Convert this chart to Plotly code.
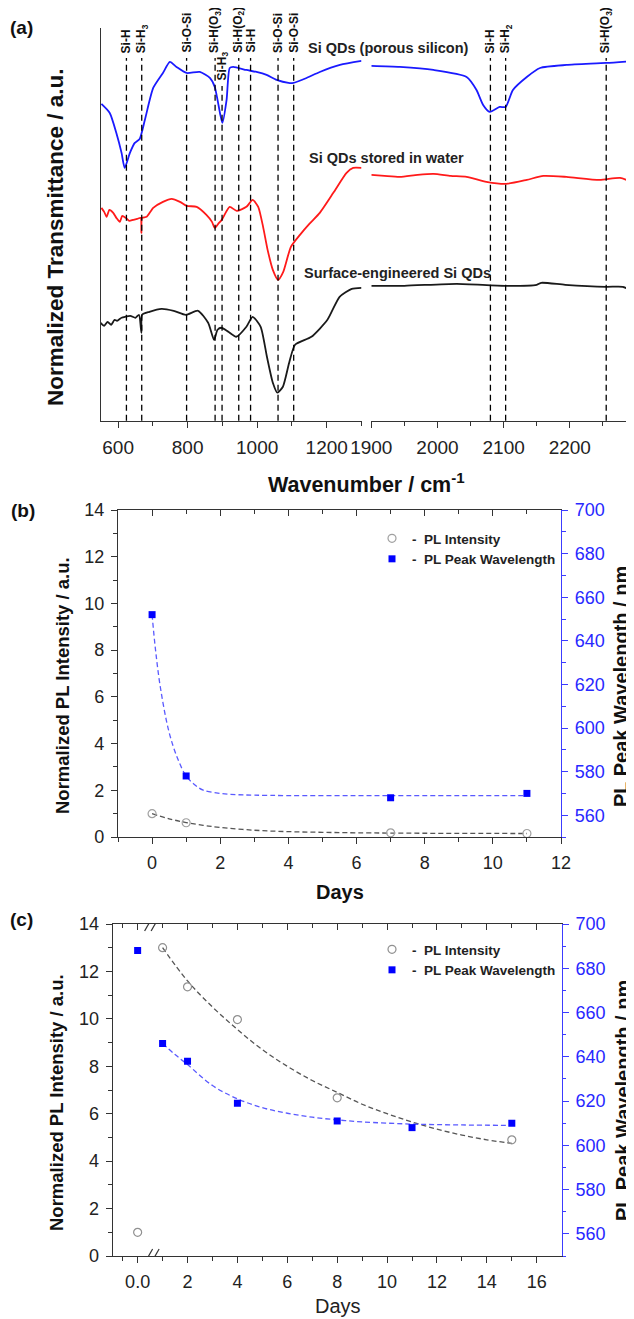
import plotly.graph_objects as go

W = 634
H = 1319
PAGE_OFF = 8  # the page body margin shifts the figure by 8 px

# (a) FTIR spectra (a.u., curves stacked)
blue_wn_l = [552, 576, 595, 610, 619, 634, 648, 662, 677, 701, 729, 749, 768, 797, 835, 864, 878, 893, 900, 912,
             921, 931, 969, 998, 1027, 1056, 1090, 1104, 1142, 1180, 1238, 1300]
blue_t_l = [317, 308, 288, 268, 253, 268, 278, 282, 301, 333, 348, 359, 354, 348, 349, 343, 334, 308, 298, 321,
            353, 354, 351, 349, 346, 341, 338, 338, 343, 349, 356, 360]
blue_wn_r = [1900, 1943, 1994, 2044, 2059, 2069, 2079, 2094, 2103, 2114, 2135, 2155, 2195, 2255, 2296]
blue_t_r = [355, 354, 351, 344, 331, 316, 309, 314, 314, 331, 344, 353, 356, 358, 360]

red_wn_l = [552, 560, 567, 575, 586, 595, 605, 612, 622, 632, 643, 655, 665, 667, 669, 682, 701, 729, 754, 778,
            797, 826, 854, 870, 878, 888, 898, 921, 941, 969, 987, 1003, 1017, 1030, 1045, 1060, 1075, 1097, 1123, 1150,
            1180, 1219, 1257, 1276, 1300]
red_t_l = [213, 209, 204, 211, 208, 203, 199, 205, 203, 200, 201, 202, 203, 188, 203, 204, 213, 219, 222, 219,
           215, 214, 206, 199, 193, 197, 201, 214, 210, 214, 221, 214, 194, 171, 151, 141, 149, 174, 186, 197,
           208, 228, 248, 253, 253]
red_wn_r = [1900, 1920, 1943, 1970, 1994, 2020, 2044, 2074, 2104, 2135, 2160, 2195, 2245, 2276, 2296]
red_t_r = [246, 245, 244, 246, 247, 245, 244, 239, 237, 241, 245, 244, 241, 243, 238]

black_wn_l = [550, 560, 570, 580, 590, 597, 610, 620, 635, 650, 660, 667, 669, 690, 725, 760, 795, 830, 859, 876,
              886, 897, 917, 940, 969, 987, 1010, 1028, 1045, 1058, 1074, 1092, 1109, 1156, 1202, 1237, 1272, 1300]
black_t_l = [98, 95, 99, 96, 101, 100, 103, 104, 105, 103, 106, 88, 106, 109, 112, 110, 106, 110, 98, 81,
             91, 93, 89, 84, 94, 104, 94, 64, 38, 28, 34, 58, 76, 84, 101, 124, 132, 133]
black_wn_r = [1900, 1950, 2029, 2102, 2150, 2157, 2193, 2255, 2280, 2291]
black_t_r = [135, 135, 137, 135, 136, 138, 136, 134, 134, 131]

band_wn_l = [624, 668, 797, 879, 899, 947, 981, 1060, 1105]
band_lbl_l = ["Si-H", "Si-H<sub>3</sub>", "Si-O-Si", "Si-H(O<sub>3</sub>)", "Si-H<sub>3</sub>",
              "Si-H(O<sub>2</sub>)", "Si-H", "Si-O-Si", "Si-O-Si"]
band_wn_r = [2080, 2103, 2255]
band_lbl_r = ["Si-H", "Si-H<sub>2</sub>", "Si-H(O<sub>3</sub>)"]

# (b) storage in water
b_days = [0, 1, 7, 11]
b_int = [1.0, 0.61, 0.18, 0.15]
b_wl = [652, 578, 568, 570]
b_fit_days = [0, 0.5, 1, 1.5, 2, 3, 4, 5, 6, 8, 11]
b_fit_int = [1.0, 0.78, 0.62, 0.5, 0.41, 0.29, 0.23, 0.2, 0.18, 0.16, 0.15]
b_fitwl_days = [0, 0.1, 0.25, 0.5, 0.75, 1.0, 1.25, 1.5, 2, 2.5, 3, 4, 6, 8, 11]
b_fit_wl = [652, 636, 618, 598, 586, 578, 574, 571.5, 570, 569.4, 569.2, 569, 569, 569, 569]

# (c) surface-engineered
c_int_days = [0, 1, 2, 4, 8, 15]
c_int = [1.0, 13.0, 11.35, 9.97, 6.67, 4.9]
c_wl_days = [0, 1, 2, 4, 8, 11, 15]
c_wl = [688, 646, 638, 619, 611, 608, 610]
c_fit_days = [1, 2, 3, 4, 5, 6, 7, 8, 9, 10, 11, 12, 13, 14, 15]
c_fit_int = [13.0, 11.6, 10.5, 9.55, 8.7, 8.0, 7.4, 6.9, 6.4, 6.0, 5.65, 5.35, 5.1, 4.9, 4.75]
c_fitwl_days = [1, 1.5, 2, 3, 4, 5, 6, 7, 8, 9, 11, 13, 15]
c_fit_wl = [646, 641, 636.5, 627, 621, 617, 614.5, 612.7, 611.5, 610.6, 609.6, 609.2, 609]
c_tick_days = [0, 2, 4, 6, 8, 10, 12, 14, 16]
c_tick_txt = ["0.0", "2", "4", "6", "8", "10", "12", "14", "16"]


def px(v):
    return (v - PAGE_OFF) / W


def py(v):
    return 1 - (v - PAGE_OFF) / H


FONT = "Arial, 'Liberation Sans', sans-serif"
AX = '#333333'
BLUE_AX = 'rgb(60,60,255)'

fig = go.Figure()

# ---------- (a)
for xs, ys, col, xa in [(blue_wn_l, blue_t_l, '#1a1aff', 'x'), (blue_wn_r, blue_t_r, '#1a1aff', 'x2'),
                        (red_wn_l, red_t_l, '#ff1a1a', 'x'), (red_wn_r, red_t_r, '#ff1a1a', 'x2'),
                        (black_wn_l, black_t_l, '#1a1a1a', 'x'), (black_wn_r, black_t_r, '#1a1a1a', 'x2')]:
    fig.add_trace(go.Scatter(x=xs, y=ys, mode='lines', line=dict(color=col, width=1.8, shape='spline', smoothing=0.6),
                             xaxis=xa, yaxis='y', showlegend=False, hoverinfo='skip'))

# ---------- (b)
fig.add_trace(go.Scatter(x=b_fit_days, y=b_fit_int, mode='lines', line=dict(color='#555', width=1.3, dash='5px,3px', shape='spline'),
                         xaxis='x3', yaxis='y3', showlegend=False))
fig.add_trace(go.Scatter(x=b_days, y=b_int, mode='markers', name='<b>-  PL Intensity</b>',
                         marker=dict(symbol='circle-open', size=8, color='#a0a0a0', line=dict(width=1.2)),
                         xaxis='x3', yaxis='y3', legend='legend'))
fig.add_trace(go.Scatter(x=b_fitwl_days, y=b_fit_wl, mode='lines', line=dict(color='rgb(90,90,255)', width=1.3, dash='5px,3px', shape='spline'),
                         xaxis='x3', yaxis='y4', showlegend=False))
fig.add_trace(go.Scatter(x=b_days, y=b_wl, mode='markers', name='<b>-  PL Peak Wavelength</b>',
                         marker=dict(symbol='square', size=7, color='#0000ff'),
                         xaxis='x3', yaxis='y4', legend='legend'))
fig.add_trace(go.Scatter(x=[], y=[], xaxis='x4', yaxis='y3', showlegend=False))

# ---------- (c)
fig.add_trace(go.Scatter(x=c_fit_days, y=c_fit_int, mode='lines', line=dict(color='#555', width=1.3, dash='5px,3px', shape='spline'),
                         xaxis='x5', yaxis='y5', showlegend=False))
fig.add_trace(go.Scatter(x=c_int_days, y=c_int, mode='markers', name='<b>-  PL Intensity</b>',
                         marker=dict(symbol='circle-open', size=8, color='#909090', line=dict(width=1.2)),
                         xaxis='x5', yaxis='y5', legend='legend2'))
fig.add_trace(go.Scatter(x=c_fitwl_days, y=c_fit_wl, mode='lines', line=dict(color='rgb(90,90,255)', width=1.3, dash='5px,3px', shape='spline'),
                         xaxis='x5', yaxis='y6', showlegend=False))
fig.add_trace(go.Scatter(x=c_wl_days, y=c_wl, mode='markers', name='<b>-  PL Peak Wavelength</b>',
                         marker=dict(symbol='square', size=7, color='#0000ff'),
                         xaxis='x5', yaxis='y6', legend='legend2'))
fig.add_trace(go.Scatter(x=[], y=[], xaxis='x6', yaxis='y5', showlegend=False))

line_ax = dict(showline=True, linecolor=AX, linewidth=1.3, showgrid=False, zeroline=False, automargin=False,
               tickcolor=AX, tickwidth=1.2, tickfont=dict(size=18, color='#222'), ticklabelstandoff=3)


def mk(**kw):
    d = dict(line_ax)
    d.update(kw)
    return d


fig.update_layout(
    width=W, height=H, margin=dict(l=0, r=0, t=0, b=0, autoexpand=False),
    paper_bgcolor='white', plot_bgcolor='white',
    font=dict(family=FONT, color='#222'),
    xaxis=mk(domain=[px(100.7), px(361.5)], range=[550, 1300], anchor='y', tick0=600, dtick=200,
             ticks='outside', ticklen=6, minor=dict(dtick=100, ticks='outside', ticklen=4, tickcolor=AX),
             tickfont=dict(size=19, color='#222')),
    xaxis2=mk(domain=[px(371.3), px(634)], range=[1900, 2297], anchor='y', tick0=1900, dtick=100,
              ticks='outside', ticklen=6, minor=dict(dtick=50, ticks='outside', ticklen=4, tickcolor=AX),
              tickfont=dict(size=19, color='#222')),
    yaxis=mk(domain=[py(420.7), py(28)], range=[0, 393], anchor='x', showticklabels=False, ticks=''),

    xaxis3=mk(domain=[px(118), px(561)], range=[-1, 12], anchor='y3', tick0=0, dtick=2, ticks='outside', ticklen=6,
              minor=dict(dtick=1, ticks='outside', ticklen=3.5, tickcolor=AX)),
    xaxis4=mk(overlaying='x3', side='top', anchor='y3', range=[-1, 12], tick0=0, dtick=2, ticks='inside', ticklen=6,
              showticklabels=False, minor=dict(dtick=1, ticks='inside', ticklen=3.5, tickcolor=AX)),
    yaxis3=mk(domain=[py(837), py(510)], range=[0, 14], anchor='x3', dtick=2, ticks='outside', ticklen=6,
              minor=dict(dtick=1, ticks='outside', ticklen=3.5, tickcolor=AX)),
    yaxis4=mk(overlaying='y3', side='right', anchor='x3', range=[550, 700], tick0=560, dtick=20,
              ticks='outside', ticklen=6, linecolor=BLUE_AX, tickcolor=BLUE_AX,
              tickfont=dict(size=18, color='rgb(40,40,255)'),
              minor=dict(dtick=10, tick0=550, ticks='outside', ticklen=3.5, tickcolor=BLUE_AX)),

    xaxis5=mk(domain=[px(112.7), px(561.7)], range=[-1, 17], anchor='y5', tickvals=c_tick_days, ticktext=c_tick_txt,
              ticks='outside', ticklen=6,
              minor=dict(tickvals=[-0.6, 1, 3, 5, 7, 9, 11, 13, 15], ticks='outside', ticklen=3.5, tickcolor=AX)),
    xaxis6=mk(overlaying='x5', side='top', anchor='y5', range=[-1, 17], tickvals=c_tick_days, ticks='inside',
              ticklen=6, showticklabels=False,
              minor=dict(tickvals=[-0.6, 1, 3, 5, 7, 9, 11, 13, 15], ticks='inside', ticklen=3.5, tickcolor=AX)),
    yaxis5=mk(domain=[py(1256), py(924)], range=[0, 14], anchor='x5', dtick=2, ticks='outside', ticklen=6,
              minor=dict(dtick=1, ticks='outside', ticklen=3.5, tickcolor=AX)),
    yaxis6=mk(overlaying='y5', side='right', anchor='x5', range=[550, 700], tick0=560, dtick=20,
              ticks='outside', ticklen=6, linecolor=BLUE_AX, tickcolor=BLUE_AX,
              tickfont=dict(size=18, color='rgb(40,40,255)'),
              minor=dict(dtick=10, tick0=550, ticks='outside', ticklen=3.5, tickcolor=BLUE_AX)),

    legend=dict(x=px(372), y=py(523), xanchor='left', yanchor='top', bgcolor='rgba(0,0,0,0)',
                font=dict(size=13.5, color='#222')),
    legend2=dict(x=px(372), y=py(934), xanchor='left', yanchor='top', bgcolor='rgba(0,0,0,0)',
                 font=dict(size=13.5, color='#222')),
)

shapes = []
ann = []

# band markers
for xa, wns, lbls in [('x', band_wn_l, band_lbl_l), ('x2', band_wn_r, band_lbl_r)]:
    for i, (wn, lb) in enumerate(zip(wns, lbls)):
        low = (xa == 'x' and i == 4)
        top = 86 if low else 58
        shapes.append(dict(type='line', xref=xa, yref='paper', x0=wn, x1=wn, y0=py(420.7), y1=py(top),
                           line=dict(color='black', width=1.3, dash='6px,4px'), layer='above'))
        ann.append(dict(x=wn, xref=xa, y=py(top - 3), yref='paper', yanchor='bottom', xanchor='center',
                        text='<b>' + lb + '</b>', textangle=-90, showarrow=False,
                        font=dict(size=12, color='#111')))

# axis breaks
ax_break = [('x2', 1900, 'y', 0, -9.5, False), ('x5', 0.62, 'y5', 0, 0, True), ('x5', 0.62, 'y5', 14, 0, True)]
for xr, xa, yr, ya, off, gap in ax_break:
    if gap:
        shapes.append(dict(type='rect', xref=xr, xsizemode='pixel', xanchor=xa, x0=off - 4, x1=off + 3,
                           yref=yr, ysizemode='pixel', yanchor=ya, y0=-2, y1=2,
                           fillcolor='white', line=dict(width=0), layer='above'))
    for dx in [-4.5, 2]:
        shapes.append(dict(type='line', xref=xr, xsizemode='pixel', xanchor=xa, x0=off + dx - 4, x1=off + dx + 4,
                           yref=yr, ysizemode='pixel', yanchor=ya, y0=-7, y1=7,
                           line=dict(color=AX, width=1.2), layer='above'))

# curve labels
for txt, x0, y0 in [('Si QDs (porous silicon)', 306, 48), ('Si QDs stored in water', 307, 158),
                    ('Surface-engineered Si QDs', 302, 273)]:
    ann.append(dict(x=px(x0), y=py(y0), xref='paper', yref='paper', xanchor='left', yanchor='middle',
                    text='<b>' + txt + '</b>', showarrow=False, font=dict(size=14.5, color='#222')))

# titles and panel labels
titles = [
    ('<b>(a)</b>', 21, 27, 0, 19, '#111'),
    ('<b>(b)</b>', 23, 510, 0, 19, '#111'),
    ('<b>(c)</b>', 21, 919, 0, 19, '#111'),
    ('<b>Normalized Transmittance / a.u.</b>', 56, 237, -90, 22.5, '#111'),
    ('<b>Wavenumber / cm<sup>-1</sup></b>', 366, 483, 0, 21.5, '#111'),
    ('<b>Normalized PL Intensity / a.u.</b>', 62, 686, -90, 18.5, '#111'),
    ('<b>PL Peak Wavelength / nm</b>', 621, 687, -90, 20, '#111'),
    ('<b>Days</b>', 340, 892, 0, 20, '#111'),
    ('<b>Normalized PL Intensity / a.u.</b>', 56, 1103, -90, 18.5, '#111'),
    ('<b>PL Peak Wavelength / nm</b>', 623, 1101, -90, 20, '#111'),
    ('Days', 338, 1306, 0, 20, '#222'),
]
for txt, x0, y0, ang, sz, col in titles:
    ann.append(dict(x=px(x0), y=py(y0), xref='paper', yref='paper', xanchor='center', yanchor='middle',
                    text=txt, textangle=ang, showarrow=False, font=dict(size=sz, color=col)))

fig.update_layout(shapes=shapes, annotations=ann)

fig.write_html("out.html")
